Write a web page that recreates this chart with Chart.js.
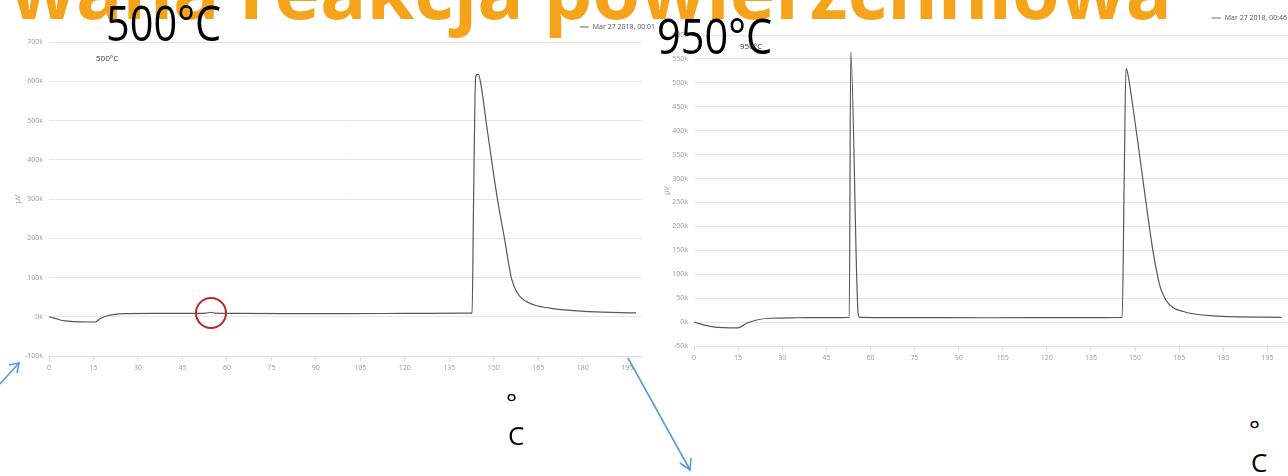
<!DOCTYPE html>
<html>
<head>
<meta charset="utf-8">
<script src="https://cdn.jsdelivr.net/npm/chart.js@4/dist/chart.umd.min.js"></script>
<style>
  html, body { margin: 0; padding: 0; background: #fff; }
  #slide { position: relative; width: 1288px; height: 476px; overflow: hidden; font-family: "Open Sans", sans-serif; }
  .box { position: absolute; }
  .txt { position: absolute; white-space: nowrap; line-height: 1; }
  #title { left: 10px; top: -49px; font-size: 77px; font-weight: 700; color: #F4A31B; }
  .big { font-size: 50px; color: #000; transform-origin: 0 0; transform: scaleX(0.83); }
  .small { font-size: 8px; color: #333; }
  .deg { font-size: 26px; color: #000; }
</style>
</head>
<body>
<div id="slide">
  <div class="box" style="left:0;top:0;width:660px;height:400px"><canvas id="c500"></canvas></div>
  <div class="box" style="left:660px;top:0;width:628px;height:400px"><canvas id="c950"></canvas></div>

  <div id="title" class="txt">wana reakcja powierzchniowa</div>
  <div class="txt big" style="left:106px;top:-3px">500°C</div>
  <div class="txt big" style="left:657px;top:10px">950°C</div>
  <div class="txt small" style="left:96px;top:54px">500°C</div>
  <div class="txt small" style="left:740px;top:42px">950°C</div>
  <div class="txt deg" style="left:506px;top:389px">°</div>
  <div class="txt deg" style="left:508px;top:422px">C</div>
  <div class="txt deg" style="left:1249px;top:416px">°</div>
  <div class="txt deg" style="left:1251px;top:449px">C</div>

  <svg class="box" style="left:0;top:0" width="1288" height="476">
    <g stroke="#5B9BD5" stroke-width="1.6" fill="none">
      <line x1="0" y1="384" x2="19" y2="363"/>
      <polyline points="9,365 19,363 17,373"/>
      <line x1="628" y1="358" x2="690" y2="470"/>
      <polyline points="680,463 690,470 691,458"/>
    </g>
    <circle cx="211" cy="313" r="15" stroke="#B8262B" stroke-width="2" fill="none"/>
  </svg>
</div>

<script>
// 500°C run: time [s] and signal [µV]
const time500 = [0, 2, 4.8, 9.3, 15.5, 17.2, 19.4, 22.2, 26, 35, 50, 53, 54.5, 56, 60, 80, 100, 120, 140, 142.7,
  143.2, 143.9, 144.8, 145.6, 147.5, 151.3, 153.7, 156, 158, 162, 168.9, 182.3, 198];
const signal500 = [0, -4000, -10000, -12600, -13400, -5000, 2000, 6000, 8000, 8500, 8500, 9000, 11500, 9000, 8500, 8000, 8000, 8500, 9000, 9000,
  300000, 612000, 618000, 595000, 493000, 297000, 196000, 97000, 60000, 35000, 22000, 13000, 10000];

// 950°C run
const time950 = [0, 5.4, 10, 15, 17.9, 21.3, 25.8, 35, 45, 52.8, 53.3, 55.8, 56.3, 70, 100, 130, 145.6,
  146.3, 146.9, 147.5, 149, 151.6, 153.9, 156.2, 158.5, 161.3, 166.4, 176.6, 199.8];
const signal950 = [0, -9000, -11500, -12000, -2500, 4400, 8000, 9000, 9500, 10000, 565000, 20000, 10000, 9500, 9000, 9500, 10000,
  300000, 530000, 520000, 461000, 346000, 241000, 144000, 74000, 39000, 22000, 13000, 10000];

const xTicks = [0, 15, 30, 45, 60, 75, 90, 105, 120, 135, 150, 165, 180, 195];
const series500Label = 'Mar 27 2018, 00:01';
const series950Label = 'Mar 27 2018, 00:46';

const cornerLegend = {
  id: 'cornerLegend',
  afterDraw(chart, args, opts) {
    const ctx = chart.ctx;
    const label = chart.data.datasets[0].label;
    ctx.save();
    ctx.font = '7px "Open Sans"';
    ctx.fillStyle = '#555';
    ctx.textAlign = 'right';
    ctx.textBaseline = 'middle';
    const right = chart.width - opts.right;
    ctx.fillText(label, right, opts.y);
    const w = ctx.measureText(label).width;
    ctx.strokeStyle = '#666';
    ctx.lineWidth = 1;
    ctx.beginPath();
    ctx.moveTo(right - w - 13, opts.y);
    ctx.lineTo(right - w - 4, opts.y);
    ctx.stroke();
    ctx.restore();
  }
};

function makeChart(id, xs, ys, label, cfg) {
  const tickFont = { family: '"Open Sans"', size: 7 };
  return new Chart(document.getElementById(id), {
    type: 'line',
    data: {
      datasets: [{
        label: label,
        data: xs.map((x, i) => ({ x: x, y: ys[i] })),
        borderColor: '#585858',
        borderWidth: 1.2,
        pointRadius: 0,
        cubicInterpolationMode: 'monotone',
        fill: false
      }]
    },
    options: {
      responsive: true,
      maintainAspectRatio: false,
      animation: false,
      layout: { padding: { top: cfg.top, right: cfg.right, left: 0, bottom: 0 } },
      plugins: {
        legend: { display: false },
        tooltip: { enabled: false },
        cornerLegend: cfg.legend
      },
      scales: {
        x: {
          type: 'linear',
          min: 0,
          max: cfg.xMax,
          afterBuildTicks: s => { s.ticks = xTicks.map(v => ({ value: v })); },
          afterFit: s => { s.height = cfg.xHeight; },
          ticks: { font: tickFont, color: '#999', maxRotation: 0, autoSkip: false, padding: 3 },
          grid: { drawOnChartArea: false, tickLength: 5, color: '#ddd' },
          border: { color: '#ddd' }
        },
        y: {
          min: cfg.yMin,
          max: cfg.yMax,
          afterFit: s => { s.width = cfg.yWidth; },
          ticks: { stepSize: cfg.yStep, font: tickFont, color: '#999', padding: 6,
                   callback: v => (v / 1000) + 'k' },
          grid: { color: '#e6e6e6', drawTicks: false },
          border: { display: false },
          title: { display: true, text: 'µV', font: tickFont, color: '#999', padding: { top: cfg.titlePad, bottom: 0 } }
        }
      }
    },
    plugins: [cornerLegend]
  });
}

makeChart('c500', time500, signal500, series500Label, {
  top: 42, right: 18, xMax: 200, xHeight: 44, yWidth: 49,
  yMin: -100000, yMax: 700000, yStep: 100000, titlePad: 14,
  legend: { right: 5, y: 27 }
});

makeChart('c950', time950, signal950, series950Label, {
  top: 35, right: 0, xMax: 202, xHeight: 54, yWidth: 34,
  yMin: -50000, yMax: 600000, yStep: 50000, titlePad: 3,
  legend: { right: 1, y: 18 }
});
</script>
</body>
</html>
